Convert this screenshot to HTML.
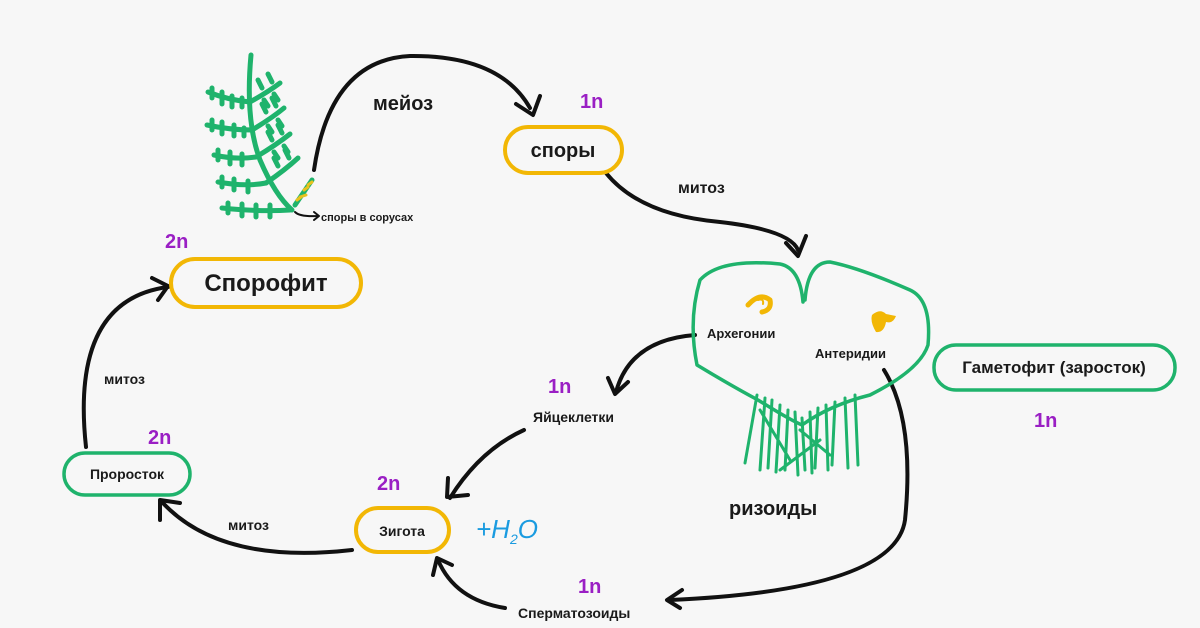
<!DOCTYPE html>
<html><head><meta charset="utf-8"><style>
html,body{margin:0;padding:0;background:#f7f7f7}
svg{display:block}
text{font-family:"Liberation Sans","DejaVu Sans",sans-serif;font-weight:bold;fill:#1a1a1a}
.p{fill:#9a1fc4;font-size:20px}
</style></head><body>
<svg width="1200" height="628" viewBox="0 0 1200 628" xmlns="http://www.w3.org/2000/svg">
<rect width="1200" height="628" fill="#f7f7f7"/>
<g fill="none" stroke-linecap="round" stroke-linejoin="round">
<!-- fern -->
<g stroke="#1fb36c" stroke-width="5">
<path d="M251 55 Q245 120 260 160 Q275 195 292 210"/>
<path d="M250 102 Q228 100 208 92"/><path d="M250 102 Q268 92 280 83"/>
<path d="M252 130 Q230 130 207 125"/><path d="M252 130 Q272 118 284 108"/>
<path d="M256 157 Q236 160 214 155"/><path d="M256 157 Q276 145 290 134"/>
<path d="M266 183 Q245 187 218 182"/><path d="M266 183 Q285 170 298 158"/>
<path d="M290 210 Q260 212 222 208"/>
</g>
<g stroke="#1fb36c" stroke-width="5">
<path d="M212 88v10M222 92v12M232 96v11M242 98v9M262 88l-4 -8M272 82l-4 -8M264 100l4 6M274 94l4 6"/>
<path d="M212 120v10M222 122v12M234 125v11M244 128v8M266 112l-4 -8M276 106l-4 -8M268 126l4 6M278 120l4 6"/>
<path d="M218 150v10M230 152v12M242 154v11M272 140l-4 -8M282 133l-4 -8M274 152l4 6M284 146l4 6"/>
<path d="M222 177v10M234 179v11M248 181v11M278 166l-4 -8M289 158l-4 -8"/>
<path d="M228 203v10M242 204v12M256 205v12M270 205v12"/>
<path d="M295 205 L312 180"/>
</g>
<g stroke="#e8c21e" stroke-width="3"><path d="M297 200 l4 -3M304 190 l4 -3M300 197l6 -2M308 185l4 -3"/></g>
<path d="M295 212 Q300 217 318 216" stroke="#111" stroke-width="2"/>
<path d="M314 212 l5 4 -5 4" stroke="#111" stroke-width="2"/>
<!-- arrows -->
<g stroke="#111" stroke-width="4">
<path d="M314 170 Q330 60 410 56 Q500 55 530 108"/>
<path d="M516 104 L533 115 L540 96"/>
<path d="M606 173 Q640 215 720 222 Q790 230 798 250"/>
<path d="M786 243 L798 256 L806 236"/>
<path d="M695 335 Q630 340 616 392"/>
<path d="M608 378 L615 394 L628 382"/>
<path d="M524 430 Q480 450 450 498"/>
<path d="M448 478 L447 497 L468 495"/>
<path d="M884 370 Q915 420 905 520 Q895 590 670 600"/>
<path d="M682 590 L667 600 L680 608"/>
<path d="M505 608 Q455 600 438 560"/>
<path d="M433 575 L437 558 L452 565"/>
<path d="M352 550 Q220 565 162 502"/>
<path d="M160 520 L160 500 L180 503"/>
<path d="M86 447 Q70 300 168 287"/>
<path d="M152 278 L168 286 L158 300"/>
</g>
<!-- gametophyte heart -->
<path d="M803 302 Q800 268 780 264 Q720 258 700 280 Q688 320 697 365 Q730 385 758 400 Q790 420 802 425 Q830 405 870 395 Q920 370 928 345 Q932 300 910 290 Q860 268 830 262 Q808 262 805 300" stroke="#1fb36c" stroke-width="3.5"/>
<g stroke="#1fb36c" stroke-width="3">
<path d="M757 395 L745 463M765 398 L760 470M772 400 L768 468M780 405 L776 472M788 410 L785 470M795 412 L798 475M802 418 L805 470M810 412 L812 473M818 408 L815 468M826 405 L828 470M835 402 L832 465M845 398 L848 468M855 395 L858 465M760 410 L790 460M800 430 L830 455M820 440 L780 470"/>
</g>
<path d="M748 305 Q760 292 770 300 Q772 310 762 312" stroke="#f2b705" stroke-width="5"/>
<path d="M758 300 Q764 298 763 304" stroke="#f2b705" stroke-width="2"/>
<!-- pills -->
<rect x="505" y="127" width="117" height="46" rx="23" stroke="#f2b705" stroke-width="4"/>
<rect x="171" y="259" width="190" height="48" rx="24" stroke="#f2b705" stroke-width="4"/>
<rect x="356" y="508" width="93" height="44" rx="22" stroke="#f2b705" stroke-width="4"/>
<rect x="64" y="453" width="126" height="42" rx="21" stroke="#1fb36c" stroke-width="3.5"/>
<rect x="934" y="345" width="241" height="45" rx="22" stroke="#1fb36c" stroke-width="3.5"/>
</g>
<path d="M872 315 Q880 308 886 314 L896 316 Q893 324 886 322 Q884 333 876 332 Q870 322 872 315Z" fill="#f2b705"/>
<text x="373" y="110" font-size="20">мейоз</text>
<text x="563" y="157" font-size="20" text-anchor="middle">споры</text>
<text x="678" y="193" font-size="16">митоз</text>
<text x="266" y="291" font-size="24" text-anchor="middle">Спорофит</text>
<text x="321" y="221" font-size="11">споры в сорусах</text>
<text x="707" y="338" font-size="13">Архегонии</text>
<text x="815" y="358" font-size="13">Антеридии</text>
<text x="1054" y="373" font-size="17" text-anchor="middle">Гаметофит (заросток)</text>
<text x="729" y="515" font-size="20">ризоиды</text>
<text x="533" y="422" font-size="14">Яйцеклетки</text>
<text x="518" y="618" font-size="14">Сперматозоиды</text>
<text x="402" y="536" font-size="14" text-anchor="middle">Зигота</text>
<text x="127" y="479" font-size="14" text-anchor="middle">Проросток</text>
<text x="104" y="384" font-size="14">митоз</text>
<text x="228" y="530" font-size="14">митоз</text>
<text x="476" y="538" font-size="26" style="fill:#1a9be0;font-weight:normal;font-style:italic">+H<tspan font-size="14" dy="6">2</tspan><tspan dy="-6">O</tspan></text>
<text class="p" x="580" y="108">1n</text>
<text class="p" x="165" y="248">2n</text>
<text class="p" x="548" y="393">1n</text>
<text class="p" x="148" y="444">2n</text>
<text class="p" x="377" y="490">2n</text>
<text class="p" x="578" y="593">1n</text>
<text class="p" x="1034" y="427">1n</text>
</svg>
</body></html>
